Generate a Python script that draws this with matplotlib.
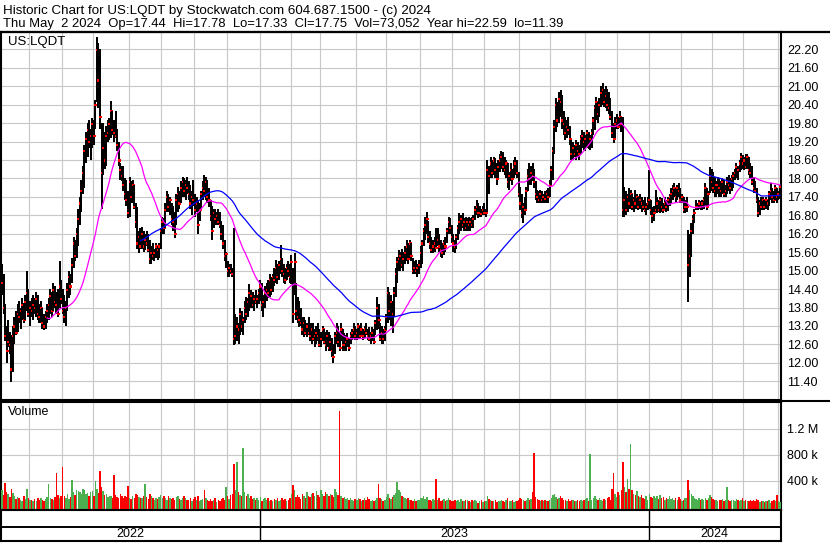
import numpy as np
import pandas as pd
import matplotlib
matplotlib.use('Agg')
import matplotlib.pyplot as plt
from matplotlib.lines import Line2D
from matplotlib.collections import LineCollection

plt.rcParams['font.family'] = ['Liberation Sans', 'DejaVu Sans']
plt.rcParams['font.size'] = 9

# daily bars, May 5 2022 .. May 2 2024, ten trading days per line
high = [
15.20,14.90,13.90,13.20,13.40,13.00,12.90,13.20,13.50,13.70,
13.90,14.00,13.80,14.10,13.95,14.20,15.00,14.40,14.00,14.10,
14.20,14.10,14.30,14.20,13.90,14.00,13.80,13.60,13.70,13.90,
14.10,14.40,14.30,14.60,14.50,14.30,14.40,15.30,14.70,14.40,
14.20,14.00,14.60,15.00,14.90,15.40,16.10,16.00,16.40,17.00,
17.40,17.95,18.40,19.10,19.50,19.80,19.90,19.60,19.95,19.90,
20.55,22.59,22.40,22.20,19.80,19.80,19.50,19.70,19.90,19.95,
20.53,20.20,19.90,20.20,19.60,19.20,18.50,18.40,18.40,18.00,
17.95,17.60,18.05,17.90,17.95,17.80,17.20,17.08,16.30,16.40,
16.43,16.30,16.20,16.30,16.20,16.00,15.80,15.89,15.70,15.90,
15.80,15.89,16.40,16.75,16.70,17.20,17.60,17.50,17.40,17.19,
17.10,16.90,17.50,17.73,17.60,17.90,18.05,18.00,17.95,18.05,
17.90,17.80,17.60,17.95,17.50,17.40,17.30,17.20,17.60,17.90,
18.10,18.05,17.95,17.70,17.30,17.10,17.00,17.00,16.90,17.00,
16.90,16.60,16.50,16.00,15.60,15.30,15.20,15.20,15.10,16.40,
13.60,13.50,13.30,13.80,13.70,13.50,14.00,14.15,14.10,14.58,
14.37,14.30,14.20,14.37,14.20,14.40,14.70,14.60,14.20,14.50,
14.60,14.70,14.90,14.80,14.90,15.10,15.35,15.20,15.30,15.83,
15.40,15.20,15.10,15.20,15.30,15.20,15.50,15.10,15.56,14.60,
14.15,14.00,13.80,13.50,13.50,13.40,13.30,13.50,13.30,13.28,
13.28,13.10,13.20,13.28,13.10,13.00,13.20,13.10,13.00,13.06,
13.00,12.90,12.80,12.60,13.00,13.28,13.20,13.00,13.28,13.10,
12.96,12.90,12.96,12.80,13.00,13.10,13.28,13.20,13.10,13.28,
13.20,13.28,13.10,13.20,13.28,13.10,13.17,13.00,13.17,13.10,
13.40,14.15,13.90,13.30,13.20,13.10,13.20,13.60,14.48,14.30,
14.20,14.00,14.48,15.10,15.45,15.67,15.60,15.70,15.60,15.80,
16.00,15.90,16.00,15.90,15.40,15.30,15.35,15.20,15.35,15.80,
16.00,16.40,16.75,16.90,16.60,16.30,16.10,16.00,16.10,16.40,
16.40,16.20,16.00,15.90,16.00,16.10,16.40,16.75,16.70,16.50,
16.20,16.00,16.20,16.50,16.86,16.80,16.86,16.70,16.75,16.70,
16.75,16.70,16.75,16.80,17.10,17.30,17.20,17.10,17.00,17.10,
17.20,17.00,18.60,18.40,18.70,18.60,18.70,18.65,18.50,18.60,
18.80,18.90,18.85,18.70,18.60,18.49,18.20,18.49,18.30,18.60,
18.70,18.60,18.20,17.73,17.50,17.20,17.40,17.73,18.30,18.49,
18.40,18.50,18.30,17.90,17.62,17.60,17.62,17.60,17.50,17.60,
17.62,17.70,17.95,18.40,19.03,19.90,20.60,20.50,20.80,20.88,
20.70,20.20,20.00,19.90,20.00,19.70,19.25,19.20,19.10,19.25,
19.20,19.10,19.40,19.57,19.50,19.40,19.57,19.50,19.40,19.60,
20.00,20.40,20.66,20.50,20.60,21.00,21.11,20.90,21.00,20.90,
20.80,20.60,20.20,19.80,20.00,20.10,20.00,20.20,20.00,20.00,
17.73,17.60,17.50,17.70,17.62,17.50,17.40,17.62,17.50,17.40,
17.50,17.40,17.30,17.40,17.20,17.40,18.27,17.30,17.08,17.10,
17.62,17.40,17.30,17.40,17.35,17.20,17.40,17.30,17.40,17.50,
17.70,17.80,17.84,17.70,17.80,17.84,17.70,17.50,17.40,17.30,
17.40,16.32,16.20,16.54,16.80,17.00,17.30,17.20,17.30,17.25,
17.30,17.40,17.84,17.70,17.60,18.38,18.30,18.20,18.06,17.90,
18.06,18.00,17.90,18.00,17.95,17.80,18.06,18.10,18.00,18.10,
18.20,18.30,18.49,18.40,18.60,18.82,18.75,18.70,18.80,18.80,
18.70,18.50,18.40,18.06,17.90,17.70,17.40,17.30,17.40,17.40,
17.30,17.40,17.30,17.60,17.84,17.70,17.60,17.80,17.70,17.60,
17.78]

low = [
14.20,13.60,12.70,12.00,12.50,12.30,11.39,11.70,12.60,12.90,
13.00,13.30,13.10,13.40,13.30,13.40,13.70,13.50,13.20,13.50,
13.40,13.60,13.50,13.40,13.30,13.30,13.10,13.06,13.10,13.30,
13.40,13.60,13.50,13.70,13.80,13.60,13.50,13.80,13.90,13.60,
13.30,13.20,13.70,14.10,14.20,14.60,15.10,15.30,15.40,15.80,
16.50,16.90,17.50,17.70,18.50,18.70,19.00,18.60,19.00,19.10,
19.60,20.50,20.30,19.60,17.00,18.10,18.30,18.40,19.20,19.25,
19.30,19.40,19.20,19.30,18.90,18.40,17.95,17.90,17.60,17.30,
17.10,16.70,16.75,17.20,17.19,17.00,16.40,15.70,15.56,15.70,
15.70,15.60,15.67,15.80,15.60,15.20,15.20,15.35,15.30,15.40,
15.35,15.40,15.70,16.20,16.20,16.40,16.90,16.90,16.80,16.50,
16.30,16.05,16.50,16.90,17.00,17.20,17.40,17.40,17.30,17.50,
17.30,17.00,16.80,17.10,16.75,16.90,16.20,16.60,17.00,17.30,
17.40,17.30,17.20,17.08,16.60,16.00,16.40,16.50,16.50,16.50,
16.40,16.00,15.70,15.30,15.10,14.80,14.80,14.90,14.80,12.58,
12.60,12.70,12.60,12.90,13.00,12.90,13.28,13.40,13.50,13.70,
13.80,13.80,13.70,13.90,13.80,13.90,14.00,13.70,13.50,13.80,
14.00,14.10,14.15,14.20,14.30,14.50,14.60,14.58,14.70,14.90,
14.80,14.60,14.58,14.70,14.80,14.60,14.58,13.28,14.20,13.40,
13.30,13.17,13.20,12.90,12.85,12.90,12.85,12.90,12.70,12.60,
12.70,12.50,12.60,12.70,12.50,12.50,12.70,12.60,12.40,12.50,
12.40,12.40,12.20,11.98,12.30,12.60,12.50,12.40,12.70,12.40,
12.40,12.40,12.50,12.40,12.60,12.74,12.80,12.74,12.74,12.80,
12.80,12.90,12.74,12.80,12.90,12.74,12.70,12.60,12.70,12.60,
12.90,13.06,13.10,12.70,12.60,12.60,12.70,13.06,13.30,13.40,
13.20,12.96,13.50,14.15,14.60,15.00,15.00,15.10,15.00,15.20,
15.30,15.20,15.40,15.30,14.90,14.90,14.90,14.80,14.90,15.10,
15.20,15.80,16.00,16.20,15.89,15.70,15.56,15.56,15.60,15.70,
15.80,15.60,15.45,15.40,15.50,15.60,15.90,16.20,16.20,15.90,
15.60,15.56,15.70,16.00,16.20,16.30,16.40,16.30,16.30,16.30,
16.30,16.30,16.40,16.40,16.64,16.80,16.70,16.75,16.75,16.80,
16.80,16.75,16.90,17.50,18.00,18.00,18.10,18.00,17.80,18.00,
18.20,18.30,18.20,18.10,18.00,17.70,17.62,17.90,17.80,18.00,
18.10,18.00,17.40,16.97,16.70,16.54,16.80,17.00,17.60,17.80,
17.80,17.90,17.70,17.30,17.19,17.20,17.19,17.20,17.19,17.20,
17.19,17.20,17.40,17.80,17.95,18.80,19.50,19.68,19.80,20.00,
19.60,19.40,19.25,19.30,19.40,19.10,18.60,18.60,18.70,18.60,
18.70,18.60,18.80,19.00,18.92,18.90,19.00,18.95,18.92,19.00,
19.40,19.57,19.90,19.80,20.00,20.33,20.40,20.33,20.30,20.20,
20.10,19.90,19.30,19.14,19.30,19.60,19.60,19.70,19.50,16.75,
16.75,16.80,16.90,17.00,17.00,16.97,16.90,17.00,17.00,16.97,
17.00,16.90,16.97,16.90,16.80,16.97,17.00,16.80,16.54,16.60,
16.90,16.86,16.90,16.86,16.90,16.86,17.00,16.90,16.95,17.10,
17.19,17.30,17.40,17.19,17.30,17.40,17.20,17.19,16.86,16.86,
16.90,13.99,14.80,15.45,16.20,16.54,16.97,16.97,17.00,16.97,
16.97,17.00,17.10,16.97,17.10,17.51,17.60,17.51,17.40,17.40,
17.50,17.40,17.40,17.50,17.40,17.40,17.50,17.60,17.50,17.60,
17.70,17.95,18.00,17.95,18.20,18.27,18.30,18.27,18.30,18.30,
18.10,18.00,17.80,17.51,17.51,17.20,16.75,16.80,16.97,16.97,
16.97,17.00,16.97,17.10,17.30,17.19,17.20,17.30,17.20,17.30,
17.33]

close = [
14.60,13.80,12.90,12.40,12.70,12.60,11.80,12.90,13.20,13.00,
13.60,13.50,13.70,13.90,13.40,14.00,14.30,13.60,13.80,13.70,
13.90,13.80,14.10,13.60,13.50,13.80,13.30,13.20,13.50,13.70,
13.90,14.20,13.70,14.40,14.00,13.90,13.60,14.50,14.10,13.70,
13.50,13.80,14.40,14.80,14.50,15.20,15.90,15.50,16.20,16.70,
17.20,17.60,18.20,18.90,19.30,19.60,19.20,19.40,19.80,19.40,
20.40,22.20,21.20,20.00,18.20,19.00,18.60,19.40,19.50,19.80,
20.20,19.60,19.50,19.40,19.10,18.60,18.30,18.10,17.80,17.50,
17.30,16.90,17.90,17.40,17.80,17.10,16.60,15.90,16.10,15.80,
16.20,15.80,16.00,15.90,15.70,15.40,15.60,15.50,15.60,15.80,
15.70,15.80,16.30,16.60,16.40,17.00,17.40,17.10,17.30,16.70,
16.60,16.20,17.30,17.50,17.20,17.70,17.90,17.60,17.80,17.70,
17.50,17.20,17.40,17.30,17.00,17.20,16.50,17.00,17.50,17.70,
17.60,17.90,17.40,17.30,16.80,16.30,16.90,16.70,16.80,16.60,
16.50,16.20,15.90,15.50,15.55,15.00,15.10,15.00,14.90,12.80,
12.90,13.20,13.10,13.60,13.20,13.40,13.80,13.60,14.00,14.30,
14.20,13.90,14.10,14.00,14.10,14.30,14.50,13.90,14.00,14.30,
14.40,14.30,14.70,14.40,14.80,14.70,15.10,14.80,15.20,15.40,
15.00,14.90,14.70,15.10,15.00,14.80,15.30,13.60,15.30,13.70,
13.50,13.40,13.30,13.10,13.30,13.00,13.20,13.00,12.90,13.10,
12.80,12.90,13.00,12.90,12.60,12.80,13.10,12.70,12.60,12.90,
12.50,12.70,12.40,12.20,12.90,13.00,12.70,12.50,13.10,12.60,
12.60,12.70,12.80,12.50,12.90,13.00,13.10,12.90,13.00,13.20,
12.90,13.10,12.90,13.10,13.00,12.90,12.80,12.90,13.00,12.70,
13.30,13.80,13.40,12.80,13.00,12.80,13.10,13.50,14.30,13.70,
14.00,13.60,14.30,14.90,15.30,15.40,15.50,15.20,15.40,15.60,
15.80,15.40,15.90,15.50,15.00,15.10,15.00,15.10,15.20,15.60,
15.90,16.30,16.50,16.70,16.10,15.90,15.70,15.80,15.90,15.75,
16.00,15.80,15.70,15.60,15.90,15.80,16.30,16.60,16.40,16.10,
15.90,15.80,16.10,16.40,16.60,16.70,16.50,16.60,16.40,16.60,
16.50,16.60,16.50,16.70,17.00,17.10,16.90,16.90,16.85,17.00,
16.90,16.90,18.30,18.10,18.50,18.20,18.60,18.30,18.00,18.40,
18.60,18.70,18.40,18.30,18.50,17.90,18.10,18.30,18.00,18.40,
18.50,18.20,17.50,17.20,16.90,17.10,17.00,17.60,18.10,18.00,
18.20,18.10,17.90,17.50,17.40,17.30,17.50,17.30,17.40,17.35,
17.50,17.40,17.80,18.30,18.90,19.70,20.40,19.90,20.60,20.50,
19.90,19.80,19.50,19.70,19.60,19.30,18.80,19.00,18.80,19.10,
18.90,18.80,19.30,19.40,19.20,19.30,19.50,19.10,19.30,19.50,
19.90,20.30,20.50,20.10,20.40,20.80,20.90,20.50,20.70,20.40,
20.30,20.00,19.50,19.30,19.80,19.90,19.70,20.00,19.80,17.00,
17.30,17.00,17.40,17.20,17.50,17.10,17.30,17.20,17.40,17.10,
17.30,17.20,17.10,17.00,17.10,17.20,17.30,17.00,16.80,16.90,
17.00,17.20,17.00,17.30,17.10,17.00,17.20,17.10,17.30,17.40,
17.50,17.60,17.70,17.40,17.70,17.60,17.30,17.40,17.00,17.10,
17.10,15.20,15.50,16.30,16.70,16.90,17.10,17.10,17.20,17.10,
17.20,17.30,17.70,17.10,17.50,18.10,17.90,17.70,17.60,17.80,
17.80,17.70,17.60,17.90,17.50,17.60,17.90,17.80,17.70,18.00,
18.10,18.20,18.40,18.30,18.50,18.70,18.50,18.60,18.40,18.70,
18.30,18.20,17.90,17.70,17.60,17.30,16.90,17.20,17.10,17.30,
17.10,17.30,17.20,17.50,17.60,17.40,17.30,17.70,17.40,17.50,
17.75]

# volume in thousands of shares
volume_k = [
250,180,360,220,190,150,280,210,160,120,
150,130,110,90,160,120,280,140,110,100,
90,120,80,140,100,130,110,90,120,150,
355,140,120,100,150,523,180,130,160,616,
170,140,200,120,150,406,220,180,260,240,
230,200,280,250,190,210,170,220,240,160,
390,280,210,549,300,240,180,200,150,170,
160,140,488,180,150,130,200,170,140,160,
150,324,130,120,170,140,200,180,150,130,
140,160,350,150,120,190,160,140,110,130,
120,150,180,130,160,140,110,170,130,120,
140,110,150,170,120,100,130,160,140,110,
100,130,90,120,150,110,160,80,100,120,
257,140,110,90,120,80,100,130,70,110,
90,120,140,100,308,160,120,180,200,657,
250,693,220,180,160,908,230,170,190,140,
160,120,140,100,130,110,150,90,120,140,
100,130,90,110,80,120,100,140,90,110,
130,100,120,90,110,140,200,334,260,150,
180,150,120,200,160,140,230,170,150,190,
210,160,240,180,150,260,200,170,220,190,
160,200,180,150,270,230,180,1480,170,140,
150,120,130,100,140,110,90,120,100,130,
120,90,110,130,100,150,120,90,110,80,
100,130,350,140,120,90,110,150,200,130,
120,150,180,210,380,260,220,170,150,140,
120,130,100,110,90,120,80,100,110,130,
140,160,120,150,100,110,90,120,100,420,
110,130,90,100,120,80,110,140,100,90,
80,100,90,110,70,120,90,80,100,110,
90,70,100,80,110,90,60,80,100,70,
80,90,160,120,100,80,90,110,70,90,
80,100,90,70,110,130,90,80,100,70,
90,80,110,140,120,100,90,110,130,100,
120,230,830,150,120,110,90,100,80,110,
90,80,100,130,180,200,150,120,140,160,
130,110,100,90,120,80,100,110,90,80,
100,90,110,80,100,120,130,90,805,110,
130,160,120,100,140,110,90,120,100,130,
150,110,280,525,200,150,230,180,260,693,
300,220,425,280,959,260,200,180,240,160,
150,180,130,120,160,110,200,150,130,170,
140,160,120,180,130,150,110,140,120,160,
120,140,110,130,100,150,120,90,110,130,
140,406,250,200,160,140,120,110,130,100,
120,100,140,110,130,180,150,120,100,110,
90,110,100,120,80,100,300,110,90,100,
110,90,120,100,80,110,130,90,100,80,
90,100,80,110,90,120,100,70,90,80,
70,90,80,100,60,90,110,80,175,90,
73.052]

price_ticks = [11.40, 12.00, 12.60, 13.20, 13.80, 14.40, 15.00, 15.60, 16.20, 16.80,
               17.40, 18.00, 18.60, 19.20, 19.80, 20.40, 21.00, 21.60, 22.20]
vol_ticks = [400000, 800000, 1200000]
vol_labels = ['400 k', '800 k', '1.2 M']
holidays = ['2022-05-30', '2022-06-20', '2022-07-04', '2022-09-05', '2022-11-24', '2022-12-26',
            '2023-01-02', '2023-01-16', '2023-02-20', '2023-04-07', '2023-05-29', '2023-06-19',
            '2023-07-04', '2023-09-04', '2023-11-23', '2023-12-25',
            '2024-01-01', '2024-01-15', '2024-02-19', '2024-03-29']

header1 = 'Historic Chart for US:LQDT by Stockwatch.com 604.687.1500 - (c) 2024'
header2 = ('Thu May  2 2024  Op=17.44  Hi=17.78  Lo=17.33  Cl=17.75  '
           'Vol=73,052  Year hi=22.59  lo=11.39')

# trading days -> month and year boundaries on the bar index
days = pd.bdate_range('2022-05-05', '2024-05-02')
days = days[~days.isin(pd.to_datetime(holidays))]
n = len(close)
days = days[:n]
x = np.arange(n)
mon = days.to_period('M')
month_starts = [i for i in range(1, n) if mon[i] != mon[i - 1]]
year_starts = [i for i in range(1, n) if days[i].year != days[i - 1].year]

cl = pd.Series(close)
ma_fast = cl.rolling(30).mean()
ma_slow = cl.rolling(90).mean()
vol = np.array(volume_k) * 1000.0
up = np.r_[True, np.diff(close) >= 0]
vcol = np.where(up, '#4caf50', '#ff0000')

W, H = 830, 543
def box(x0, y0, x1, y1):
	return [x0 / W, 1 - y1 / H, (x1 - x0) / W, (y1 - y0) / H]

fig = plt.figure(figsize=(8.3, 5.43), dpi=100)
ax = fig.add_axes(box(1, 32, 781, 400))
axv = fig.add_axes(box(1, 402, 781, 510))
axd = fig.add_axes(box(1, 510, 781, 541))

xl = (-0.65, n - 0.35)
grid_kw = dict(color='#c8c8c8', lw=0.8)

# price panel: each bar is drawn, then its red close tick, so the next bar
# hides part of the ticks like on the original chart
segs, cols, lws = [], [], []
for i in range(n):
	segs.append([(i, low[i]), (i, high[i])])
	cols.append('black')
	lws.append(1.1)
	segs.append([(i, close[i] - 0.018), (i, close[i] + 0.018)])
	cols.append('red')
	lws.append(0.75)
ax.add_collection(LineCollection(segs, colors=cols, linewidths=lws, antialiaseds=False, zorder=3))
ax.plot(x, ma_fast, color='#ff00ff', lw=0.9, zorder=5)
ax.plot(x, ma_slow, color='#0000ff', lw=0.9, zorder=5)
ax.set_xlim(xl)
ax.set_ylim(10.791, 22.763)
ax.set_yticks(price_ticks)
ax.set_yticklabels(['%.2f' % t for t in price_ticks])
ax.set_xticks(np.array(month_starts) - 0.5)
ax.yaxis.tick_right()
ax.tick_params(length=0, pad=4.5, labelbottom=False, labelsize=9)
ax.grid(True, **grid_kw)
ax.set_axisbelow(True)
ax.text(7 / 780, 0.99, 'US:LQDT', transform=ax.transAxes, va='top', ha='left', fontsize=9.5)

# volume panel
vmin = -50800
axv.bar(x, vol - vmin, bottom=vmin, width=0.95, color=vcol, linewidth=0, zorder=3)
axv.set_xlim(xl)
axv.set_ylim(vmin, 1611000)
axv.set_yticks(vol_ticks)
axv.set_yticklabels(vol_labels)
axv.set_xticks(np.array(month_starts) - 0.5)
axv.yaxis.tick_right()
axv.tick_params(length=0, pad=4.5, labelbottom=False, labelsize=9)
axv.grid(True, **grid_kw)
axv.set_axisbelow(True)
axv.text(7 / 780, 0.965, 'Volume', transform=axv.transAxes, va='top', ha='left', fontsize=9)

# date band
axd.set_xlim(xl)
axd.set_ylim(0, 1)
axd.set_xticks([])
axd.set_yticks([])
axd.axhline(0.46, color='black', lw=1.4)
bounds = [xl[0]] + [i - 0.5 for i in year_starts] + [xl[1]]
axd.vlines([i - 0.5 for i in year_starts], 0, 1, colors='black', lw=1.0)
for k in range(len(bounds) - 1):
	yr = days[0].year + k
	axd.text((bounds[k] + bounds[k + 1]) / 2, 0.22, str(yr), ha='center', va='center', fontsize=9)

for a in (ax, axv, axd):
	for s in a.spines.values():
		s.set_color('black')
		s.set_linewidth(1.5)

# header
fig.add_artist(Line2D([0, 1], [1 - 31.5 / H, 1 - 31.5 / H], color='black', lw=1.6))
fig.add_artist(Line2D([781 / W, 1], [1 - 400.5 / H, 1 - 400.5 / H], color='black', lw=1.5))
fig.text(3 / W, 1 - 14 / H, header1, ha='left', va='baseline', fontsize=9.6)
fig.text(3 / W, 1 - 27 / H, header2, ha='left', va='baseline', fontsize=9.4)

plt.savefig('out.png', dpi=100)
